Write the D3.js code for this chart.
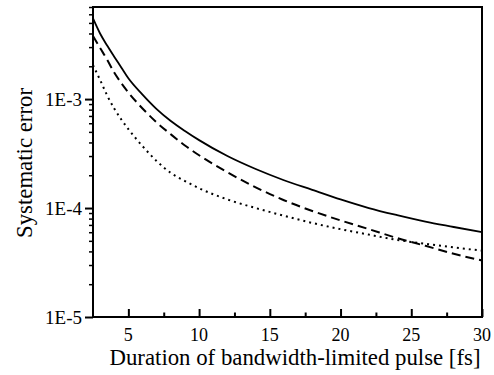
<!DOCTYPE html>
<html>
<head>
<meta charset="utf-8">
<script src="https://cdn.jsdelivr.net/npm/d3@7"></script>
<style>
  html, body { margin: 0; padding: 0; background: #fff; }
  svg text { font-family: "Liberation Serif", "DejaVu Serif", serif !important; fill: #000; }
</style>
</head>
<body>
<svg id="chart" width="494" height="375"></svg>
<script>
// Pulse duration (fs) at which each error curve is sampled
const duration = [2.5, 3, 3.5, 4, 4.5, 5, 6, 7, 8, 9, 10, 12, 14, 16, 18, 20, 22, 24, 26, 28, 30];

// Systematic error curves
const errSolid = [5.5e-3, 4.0e-3, 3.1e-3, 2.45e-3, 1.95e-3, 1.55e-3, 1.1e-3, 8.1e-4, 6.3e-4, 5.1e-4,
                  4.2e-4, 3.0e-4, 2.28e-4, 1.8e-4, 1.47e-4, 1.2e-4, 1.0e-4, 8.6e-5, 7.5e-5, 6.7e-5, 6.0e-5];
const errDashed = [3.8e-3, 2.95e-3, 2.3e-3, 1.75e-3, 1.4e-3, 1.15e-3, 8.2e-4, 6.1e-4, 4.75e-4, 3.75e-4,
                   3.05e-4, 2.13e-4, 1.55e-4, 1.18e-4, 9.4e-5, 7.7e-5, 6.4e-5, 5.3e-5, 4.5e-5, 3.8e-5, 3.3e-5];
const errDotted = [2.05e-3, 1.5e-3, 1.08e-3, 8.2e-4, 6.5e-4, 5.3e-4, 3.7e-4, 2.7e-4, 2.1e-4, 1.77e-4,
                   1.52e-4, 1.2e-4, 1.0e-4, 8.5e-5, 7.3e-5, 6.4e-5, 5.7e-5, 5.1e-5, 4.7e-5, 4.35e-5, 4.07e-5];

// Axis ticks
const xTicks = [5, 10, 15, 20, 25, 30];
const xMinorTicks = [7.5, 12.5, 17.5, 22.5, 27.5];
const yTicks = [1e-5, 1e-4, 1e-3];
const yTickLabels = ["1E-5", "1E-4", "1E-3"];

const svg = d3.select("#chart");
const margin = { left: 93, right: 12, top: 7, bottom: 58 };
const W = 494, H = 375;

const x = d3.scaleLinear().domain([2.5, 30]).range([margin.left, W - margin.right]);
const y = d3.scaleLog().domain([1e-5, 7e-3]).range([H - margin.bottom, margin.top]);

const yMinor = [];
for (let e = -5; e <= -3; e++) {
  for (let m = 2; m <= 9; m++) {
    const v = m * Math.pow(10, e);
    if (v <= 7e-3) yMinor.push(v);
  }
}

// Curves
const line = d3.line()
  .x(d => x(d[0]))
  .y(d => y(d[1]))
  .curve(d3.curveMonotoneX);

const series = [
  { vals: errSolid, dash: null, w: 1.8 },
  { vals: errDashed, dash: "9,5", w: 2 },
  { vals: errDotted, dash: "2,4", w: 2 }
];

svg.append("g").selectAll("path")
  .data(series)
  .join("path")
  .attr("d", s => line(duration.map((t, i) => [t, s.vals[i]])))
  .attr("fill", "none")
  .attr("stroke", "#000")
  .attr("stroke-width", s => s.w)
  .attr("stroke-dasharray", s => s.dash);

// Frame
svg.append("rect")
  .attr("x", margin.left)
  .attr("y", margin.top)
  .attr("width", W - margin.right - margin.left)
  .attr("height", H - margin.bottom - margin.top)
  .attr("fill", "none")
  .attr("stroke", "#000")
  .attr("stroke-width", 2);

// X axis: ticks point into the plot
const xAxis = d3.axisTop(x).tickValues(xTicks).tickSize(8).tickFormat("");
const gx = svg.append("g").attr("transform", `translate(0,${H - margin.bottom})`).call(xAxis);
gx.select(".domain").remove();
gx.selectAll(".tick line").attr("stroke-width", 2);

const xAxisMinor = d3.axisTop(x).tickValues(xMinorTicks).tickSize(4.5).tickFormat("");
const gxm = svg.append("g").attr("transform", `translate(0,${H - margin.bottom})`).call(xAxisMinor);
gxm.select(".domain").remove();
gxm.selectAll(".tick line").attr("stroke-width", 2);

svg.append("g").selectAll("text")
  .data(xTicks)
  .join("text")
  .attr("x", d => x(d))
  .attr("y", 341)
  .attr("text-anchor", "middle")
  .attr("font-size", 18)
  .text(d => d);

// Y axis: ticks point outward
const yAxis = d3.axisLeft(y).tickValues(yTicks).tickSize(8).tickPadding(3)
  .tickFormat((d, i) => yTickLabels[i]);
const gy = svg.append("g").attr("transform", `translate(${margin.left},0)`).call(yAxis);
gy.select(".domain").remove();
gy.selectAll(".tick line").attr("stroke-width", 2);
gy.selectAll(".tick text").attr("font-size", 19);

const yAxisMinor = d3.axisLeft(y).tickValues(yMinor).tickSize(4).tickFormat("");
const gym = svg.append("g").attr("transform", `translate(${margin.left},0)`).call(yAxisMinor);
gym.select(".domain").remove();
gym.selectAll(".tick line").attr("stroke-width", 1.5);

// Axis titles
svg.append("text")
  .attr("x", 295)
  .attr("y", 365)
  .attr("text-anchor", "middle")
  .attr("font-size", 22.8)
  .text("Duration of bandwidth-limited pulse [fs]");

svg.append("text")
  .attr("transform", "translate(32,163) rotate(-90)")
  .attr("text-anchor", "middle")
  .attr("font-size", 22.8)
  .text("Systematic error");
</script>
</body>
</html>
